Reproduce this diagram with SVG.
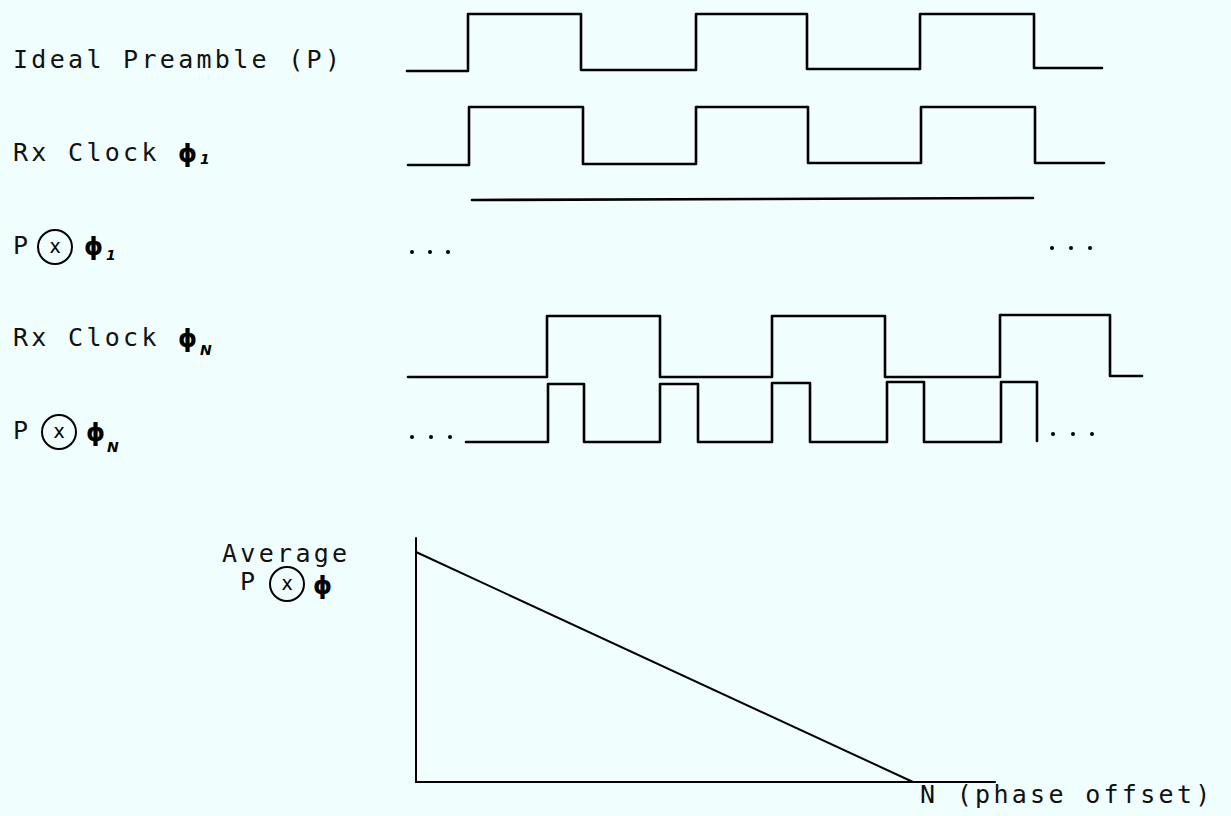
<svg xmlns="http://www.w3.org/2000/svg" width="1231" height="816" viewBox="0 0 1231 816">
<style>
.bg{fill:#F0FEFE}
.w{fill:none;stroke:#000;stroke-width:2.6;stroke-linejoin:round;stroke-linecap:round}
.ax{fill:none;stroke:#000;stroke-width:2;stroke-linecap:round}
.t{font-family:"DejaVu Sans Mono","Liberation Mono",monospace;font-size:25px;letter-spacing:3.3px;fill:#111}
.ph{font-family:"DejaVu Sans","Liberation Sans",sans-serif;font-size:24px;font-weight:bold;fill:#000}
.sub{font-family:"DejaVu Sans","Liberation Sans",sans-serif;font-size:14px;font-weight:bold;font-style:italic;fill:#000}
.cx{font-family:"DejaVu Sans","Liberation Sans",sans-serif;font-size:19px;fill:#000;text-anchor:middle}
.circ{fill:none;stroke:#000;stroke-width:2}
.dot{fill:#000}
</style>
<rect class="bg" x="0" y="0" width="1231" height="816"/>

<g id="label-ideal">
<text class="t" x="13" y="68">Ideal Preamble (P)</text>
</g>
<g id="label-rx1">
<text class="t" x="13" y="161">Rx Clock</text>
<text class="ph" x="178" y="162">ϕ</text>
<text class="sub" x="200" y="164">1</text>
</g>
<g id="label-pxphi1">
<text class="t" x="13" y="254">P</text>
<circle class="circ" cx="55" cy="247" r="17"/>
<text class="cx" x="55" y="253">x</text>
<text class="ph" x="84" y="255">ϕ</text>
<text class="sub" x="106" y="260">1</text>
</g>
<g id="label-rxN">
<text class="t" x="13" y="346">Rx Clock</text>
<text class="ph" x="178" y="347">ϕ</text>
<text class="sub" x="200" y="355">N</text>
</g>
<g id="label-pxphiN">
<text class="t" x="13" y="439">P</text>
<circle class="circ" cx="59" cy="432" r="17"/>
<text class="cx" x="59" y="438">x</text>
<text class="ph" x="86" y="441">ϕ</text>
<text class="sub" x="107" y="452">N</text>
</g>
<g id="label-average">
<text class="t" x="222" y="562" letter-spacing="3.6">Average</text>
<text class="t" x="240" y="590">P</text>
<circle class="circ" cx="287" cy="584" r="17"/>
<text class="cx" x="287" y="590">x</text>
<text class="ph" x="313" y="594">ϕ</text>
</g>
<g id="label-axis">
<text class="t" x="920" y="803" letter-spacing="3.8">N (phase offset)</text>
</g>

<g id="waveforms">
<polyline id="wave-ideal" class="w" points="407,71 468,71 468,14 581,14 581,70 696,70 696,14 807,14 807,69 920,69 920,14 1034,14 1034,68 1102,68"/>
<polyline id="wave-rx1" class="w" points="408,165 469,165 469,107 583,107 583,164 696,164 696,107 808,107 808,163 921,163 921,107 1035,107 1035,163 1104,163"/>
<line id="wave-line" class="w" x1="472" y1="200" x2="1033" y2="198"/>
<g id="dots-1">
<circle class="dot" cx="412" cy="252" r="2"/>
<circle class="dot" cx="430" cy="252" r="2"/>
<circle class="dot" cx="448" cy="252" r="2"/>
<circle class="dot" cx="1052" cy="248" r="2"/>
<circle class="dot" cx="1071" cy="248" r="2"/>
<circle class="dot" cx="1090" cy="248" r="2"/>
</g>
<polyline id="wave-rxN" class="w" points="408,377 547,377 547,316 660,316 660,377 772,377 772,316 885,316 885,377 1000,377 1000,315 1110,315 1110,376 1142,376"/>
<polyline id="wave-pxN" class="w" points="466,442 548,442 548,384 584,384 584,442 660,442 660,384 698,384 698,442 772,442 772,383 810,383 810,442 887,442 887,382 924,382 924,442 1001,442 1001,382 1037,382 1037,441"/>
<g id="dots-N">
<circle class="dot" cx="412" cy="437" r="2"/>
<circle class="dot" cx="431" cy="437" r="2"/>
<circle class="dot" cx="450" cy="437" r="2"/>
<circle class="dot" cx="1053" cy="434" r="2"/>
<circle class="dot" cx="1073" cy="434" r="2"/>
<circle class="dot" cx="1092" cy="434" r="2"/>
</g>
</g>

<g id="graph">
<line class="ax" x1="416" y1="538" x2="416" y2="782"/>
<line class="ax" x1="416" y1="782" x2="995" y2="782"/>
<line class="ax" x1="416" y1="552" x2="913" y2="782"/>
</g>
</svg>
